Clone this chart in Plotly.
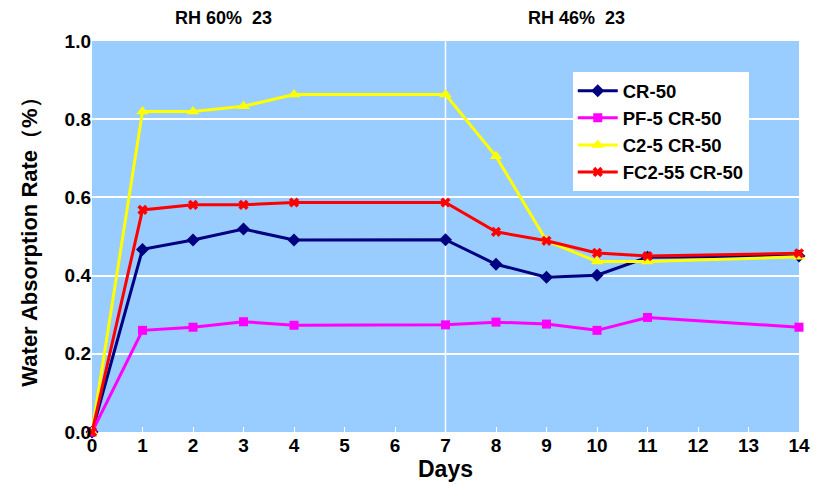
import plotly.graph_objects as go

days = [0, 1, 2, 3, 4, 7, 8, 9, 10, 11, 14]
cr50 = [0.0, 0.467, 0.491, 0.519, 0.491, 0.492, 0.429, 0.396, 0.401, 0.447, 0.450]
pf5 = [0.0, 0.260, 0.268, 0.282, 0.273, 0.274, 0.281, 0.276, 0.260, 0.293, 0.268]
c25 = [0.0, 0.820, 0.820, 0.833, 0.863, 0.863, 0.705, 0.489, 0.436, 0.436, 0.448]
fc255 = [0.0, 0.568, 0.581, 0.581, 0.587, 0.587, 0.512, 0.489, 0.458, 0.450, 0.457]

series = [
    ("CR-50", cr50, "#000080", "diamond", 10),
    ("PF-5 CR-50", pf5, "#FF00FF", "square", 9),
    ("C2-5 CR-50", c25, "#FFFF00", "triangle-up", 11),
    ("FC2-55 CR-50", fc255, "#FF0000", "x", 9),
]

fig = go.Figure()
for name, vals, col, sym, sz in series:
    fig.add_trace(go.Scatter(
        x=days, y=vals, name=name, mode="lines+markers",
        line=dict(color=col, width=3),
        marker=dict(symbol=sym, size=sz, color=col),
        cliponaxis=False,
    ))

bold = dict(family="Liberation Sans, Arial", color="black", weight="bold")
fig.update_layout(
    width=824, height=484,
    paper_bgcolor="white", plot_bgcolor="#99CCFF",
    margin=dict(l=92, r=25, t=41, b=52, autoexpand=False),
    font=dict(family="Liberation Sans, Arial", size=16, color="black"),
    legend=dict(
        x=0.68, y=0.92, xanchor="left", yanchor="top",
        bgcolor="white", borderwidth=0,
        font=dict(size=18.5, **bold),
        tracegroupgap=0, itemwidth=40,
    ),
    showlegend=True,
)
fig.update_xaxes(
    range=[0, 14], tickvals=list(range(15)), automargin=False,
    showgrid=False, zeroline=False,
    ticks="inside", ticklen=5, tickcolor="white",
    tickfont=dict(size=19, **bold),
    title=dict(text="Days", font=dict(size=23, **bold), standoff=4),
)
fig.update_yaxes(
    range=[0, 1.0], tickvals=[0, 0.2, 0.4, 0.6, 0.8, 1.0], tickformat=".1f",
    automargin=False,
    showgrid=True, gridcolor="white", gridwidth=1.5, zeroline=False,
    ticks="inside", ticklen=5, tickcolor="white",
    tickfont=dict(size=19, **bold),
    title=dict(text="Water Absorption Rate（%）", font=dict(size=22, **bold), standoff=20),
)
# vertical divider between the two humidity phases
fig.add_vline(x=7, line=dict(color="white", width=1.5), layer="below")
fig.add_annotation(x=2.6, y=1.0, yref="paper", yanchor="middle", yshift=23,
                   text="RH 60%  23", showarrow=False, font=dict(size=18, **bold))
fig.add_annotation(x=9.6, y=1.0, yref="paper", yanchor="middle", yshift=23,
                   text="RH 46%  23", showarrow=False, font=dict(size=18, **bold))

# drop the browser's default body margin so the figure sits at the page corner
fig.write_html("out.html", config={"displayModeBar": False},
               post_script="document.body.style.margin='0';")
